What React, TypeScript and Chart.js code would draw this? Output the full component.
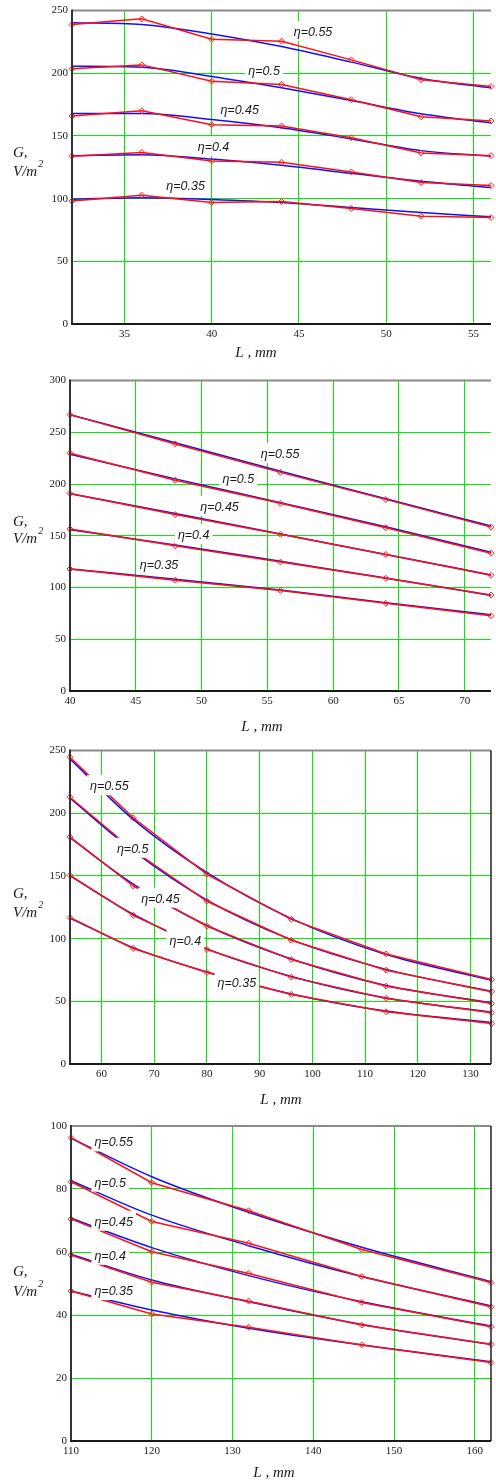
import React, { useEffect, useRef } from 'react';
import { Chart, registerables } from 'chart.js';
Chart.register(...registerables);

const ETA = ['η=0.55', 'η=0.5', 'η=0.45', 'η=0.4', 'η=0.35'];

// ---------- Chart 1 ----------
const c1X = [32, 36, 40, 44, 48, 52, 56];
const c1Red55 = [238.9, 243.4, 227.2, 225.6, 210.7, 194.8, 189.5];
const c1Red50 = [203.6, 206.7, 193.7, 191.1, 178.9, 165.3, 161.9];
const c1Red45 = [165.9, 170.1, 159.0, 157.9, 148.6, 136.4, 134.3];
const c1Red40 = [133.8, 136.9, 130.0, 129.0, 121.3, 112.8, 110.4];
const c1Red35 = [98.2, 102.7, 96.9, 97.7, 92.1, 86.0, 84.9];
const c1Blue55 = [240.4, 239.0, 231.4, 221.3, 208.9, 195.9, 188.4];
const c1Blue50 = [205.7, 204.9, 197.5, 188.4, 178.3, 167.7, 160.3];
const c1Blue45 = [168.0, 168.0, 163.2, 156.6, 147.6, 138.3, 133.8];
const c1Blue40 = [134.3, 135.1, 131.6, 126.6, 120.2, 113.9, 108.8];
const c1Blue35 = [99.5, 100.8, 99.3, 96.9, 92.9, 88.9, 85.5];
const c1XTicks = [35, 40, 45, 50, 55];
const c1YTicks = [0, 50, 100, 150, 200, 250];
const c1LabelX = [44.7, 42.1, 40.5, 39.2, 37.4];
const c1LabelY = [232.7, 202.2, 170.9, 141.2, 110.1];

// ---------- Chart 2 ----------
const c2X = [40, 48, 56, 64, 72];
const c2Red55 = [267.1, 238.8, 211.3, 185.2, 158.4];
const c2Red50 = [229.8, 203.7, 181.4, 157.8, 133.2];
const c2Red45 = [190.9, 170.5, 151.4, 132.0, 111.9];
const c2Red40 = [156.5, 140.3, 124.6, 109.0, 92.8];
const c2Red35 = [117.9, 107.1, 97.2, 84.8, 72.7];
const c2Blue55 = [267.0, 240.0, 212.3, 185.8, 159.4];
const c2Blue50 = [228.9, 205.0, 182.0, 158.7, 134.2];
const c2Blue45 = [190.6, 171.5, 151.7, 132.0, 112.2];
const c2Blue40 = [155.9, 141.2, 125.3, 109.3, 92.4];
const c2Blue35 = [117.9, 108.1, 97.5, 85.4, 73.6];
const c2XTicks = [40, 45, 50, 55, 60, 65, 70];
const c2YTicks = [0, 50, 100, 150, 200, 250, 300];
const c2LabelX = [54.5, 51.6, 49.9, 48.2, 45.3];
const c2LabelY = [228.9, 205.0, 177.9, 150.8, 121.5];

// ---------- Chart 3 ----------
const c3X = [54, 66, 80, 96, 114, 134];
const c3Red55 = [244.7, 196.4, 151.3, 115.4, 87.8, 67.4];
const c3Red50 = [212.8, 170.5, 129.8, 98.7, 74.8, 57.6];
const c3Red45 = [181.0, 142.0, 109.9, 83.3, 62.1, 48.3];
const c3Red40 = [150.5, 118.6, 91.3, 69.3, 52.3, 40.9];
const c3Red35 = [116.8, 92.1, 73.0, 55.5, 41.7, 32.4];
const c3Blue55 = [243.4, 195.1, 152.6, 116.0, 87.3, 66.9];
const c3Blue50 = [212.0, 170.0, 130.8, 99.2, 75.5, 58.0];
const c3Blue45 = [180.5, 143.5, 110.5, 83.8, 62.6, 48.8];
const c3Blue40 = [150.0, 119.5, 91.8, 69.8, 52.6, 41.3];
const c3Blue35 = [116.5, 92.8, 73.4, 55.9, 42.2, 33.2];
const c3XTicks = [60, 70, 80, 90, 100, 110, 120, 130];
const c3YTicks = [0, 50, 100, 150, 200, 250];
const c3LabelX = [57.8, 62.9, 67.5, 72.9, 82.0];
const c3LabelY = [221.6, 171.7, 131.9, 98.2, 65.0];

// ---------- Chart 4 ----------
const c4X = [110, 120, 132, 146, 162];
const c4Red55 = [96.3, 82.0, 73.1, 60.8, 50.3];
const c4Red50 = [82.3, 69.7, 62.8, 52.2, 42.6];
const c4Red45 = [70.5, 60.1, 53.2, 44.0, 36.3];
const c4Red40 = [59.0, 50.4, 44.4, 36.8, 30.7];
const c4Red35 = [47.6, 40.3, 36.1, 30.5, 24.9];
const c4Blue55 = [96.1, 83.9, 72.6, 61.5, 50.6];
const c4Blue50 = [82.6, 71.7, 62.0, 52.2, 42.9];
const c4Blue45 = [70.7, 61.4, 52.5, 44.2, 36.5];
const c4Blue40 = [59.3, 51.1, 44.2, 37.0, 30.7];
const c4Blue35 = [47.6, 41.6, 35.8, 30.5, 25.2];
const c4XTicks = [110, 120, 130, 140, 150, 160];
const c4YTicks = [0, 20, 40, 60, 80, 100];
const c4LabelX = [112.9, 112.9, 112.9, 112.9, 112.9];
const c4LabelY = [94.8, 82.0, 69.6, 58.8, 47.6];

type Spec = {
  top: number; height: number;
  pl: number; pr: number; pt: number; pb: number;
  xMin: number; xMax: number; yMax: number;
  xTicks: number[]; yTicks: number[];
  xs: number[]; red: number[][]; blue: number[][];
  lx: number[]; ly: number[];
  xTitleX: number; xTitleY: number; gY: number; vY: number;
  rightBorder: boolean;
};

const specs: Spec[] = [
  {
    top: 0, height: 370, pl: 72, pr: 496, pt: 10, pb: 324,
    xMin: 32, xMax: 56, yMax: 250, xTicks: c1XTicks, yTicks: c1YTicks,
    xs: c1X, red: [c1Red55, c1Red50, c1Red45, c1Red40, c1Red35],
    blue: [c1Blue55, c1Blue50, c1Blue45, c1Blue40, c1Blue35],
    lx: c1LabelX, ly: c1LabelY, xTitleX: 256, xTitleY: 353, gY: 153, vY: 172, rightBorder: false,
  },
  {
    top: 370, height: 370, pl: 70, pr: 496, pt: 377, pb: 691,
    xMin: 40, xMax: 72, yMax: 300, xTicks: c2XTicks, yTicks: c2YTicks,
    xs: c2X, red: [c2Red55, c2Red50, c2Red45, c2Red40, c2Red35],
    blue: [c2Blue55, c2Blue50, c2Blue45, c2Blue40, c2Blue35],
    lx: c2LabelX, ly: c2LabelY, xTitleX: 262, xTitleY: 727, gY: 522, vY: 539, rightBorder: false,
  },
  {
    top: 740, height: 370, pl: 70, pr: 493, pt: 750, pb: 1064,
    xMin: 54, xMax: 133.9, yMax: 250, xTicks: c3XTicks, yTicks: c3YTicks,
    xs: c3X, red: [c3Red55, c3Red50, c3Red45, c3Red40, c3Red35],
    blue: [c3Blue55, c3Blue50, c3Blue45, c3Blue40, c3Blue35],
    lx: c3LabelX, ly: c3LabelY, xTitleX: 281, xTitleY: 1100, gY: 894, vY: 913, rightBorder: true,
  },
  {
    top: 1110, height: 371, pl: 71, pr: 495, pt: 1126, pb: 1441,
    xMin: 110, xMax: 162, yMax: 100, xTicks: c4XTicks, yTicks: c4YTicks,
    xs: c4X, red: [c4Red55, c4Red50, c4Red45, c4Red40, c4Red35],
    blue: [c4Blue55, c4Blue50, c4Blue45, c4Blue40, c4Blue35],
    lx: c4LabelX, ly: c4LabelY, xTitleX: 274, xTitleY: 1473, gY: 1272, vY: 1292, rightBorder: true,
  },
];

const GREEN = '#00ee00';

function Panel({ s }: { s: Spec }) {
  const ref = useRef<HTMLCanvasElement | null>(null);
  useEffect(() => {
    if (!ref.current) return;
    const datasets: any[] = [];
    s.red.forEach((arr) => {
      datasets.push({
        data: s.xs.map((x, j) => ({ x, y: arr[j] })),
        borderColor: '#ff1010',
        borderWidth: 1.5,
        tension: 0,
        pointStyle: 'rectRot',
        pointRadius: 3,
        pointBorderColor: '#ff2020',
        pointBackgroundColor: 'rgba(255,255,255,0)',
        pointBorderWidth: 1,
        clip: 5,
      });
    });
    s.blue.forEach((arr) => {
      datasets.push({
        data: s.xs.map((x, j) => ({ x, y: arr[j] })),
        borderColor: '#1010ff',
        borderWidth: 1.5,
        cubicInterpolationMode: 'monotone',
        pointRadius: 0,
        clip: 5,
      });
    });

    const relTop = s.top;
    const decor = {
      id: 'decor',
      afterDatasetsDraw(chart: any) {
        const { ctx, scales } = chart;
        ctx.save();
        ctx.font = 'italic 12.5px "Liberation Sans", Arial, sans-serif';
        ctx.textBaseline = 'middle';
        ctx.textAlign = 'left';
        ETA.forEach((t, i) => {
          const px = scales.x.getPixelForValue(s.lx[i]);
          const py = scales.y.getPixelForValue(s.ly[i]);
          const w = ctx.measureText(t).width;
          ctx.fillStyle = '#ffffff';
          ctx.fillRect(px - 3, py - 11, w + 6, 20);
          ctx.fillStyle = '#1a1a1a';
          ctx.fillText(t, px, py + 0.5);
        });
        ctx.restore();
      },
      afterDraw(chart: any) {
        const { ctx, chartArea } = chart;
        const { left, right, top, bottom } = chartArea;
        ctx.save();
        // frame
        ctx.lineWidth = 2;
        ctx.strokeStyle = '#8a8a8a';
        ctx.beginPath();
        ctx.moveTo(left, top);
        ctx.lineTo(right, top);
        ctx.stroke();
        ctx.strokeStyle = '#333333';
        ctx.beginPath();
        ctx.moveTo(left, top - 1);
        ctx.lineTo(left, bottom + 1);
        ctx.stroke();
        ctx.strokeStyle = '#1a1a1a';
        ctx.beginPath();
        ctx.moveTo(left - 1, bottom);
        ctx.lineTo(right, bottom);
        ctx.stroke();
        if (s.rightBorder) {
          ctx.strokeStyle = '#202020';
          ctx.lineWidth = 1.5;
          ctx.beginPath();
          ctx.moveTo(right, top);
          ctx.lineTo(right, bottom);
          ctx.stroke();
        }
        // axis titles
        ctx.fillStyle = '#1a1a1a';
        ctx.textBaseline = 'middle';
        ctx.font = 'italic 15px "Liberation Serif", "Times New Roman", serif';
        ctx.textAlign = 'center';
        ctx.fillText('L , mm', s.xTitleX, s.xTitleY - relTop);
        ctx.textAlign = 'left';
        ctx.fillText('G,', 13, s.gY - relTop);
        ctx.fillText('V/m', 13, s.vY - relTop);
        const w = ctx.measureText('V/m').width;
        ctx.font = 'italic 10px "Liberation Serif", "Times New Roman", serif';
        ctx.fillText('2', 13 + w + 1, s.vY - relTop - 8);
        ctx.restore();
      },
    };

    const tickFont = { family: '"Liberation Serif", "Times New Roman", serif', size: 11 };
    const chart = new Chart(ref.current, {
      type: 'line',
      data: { datasets },
      options: {
        animation: false,
        responsive: false,
        maintainAspectRatio: false,
        events: [],
        layout: { padding: { top: s.pt - s.top, right: 496 - s.pr, left: 0, bottom: 0 } },
        plugins: { legend: { display: false }, tooltip: { enabled: false } },
        scales: {
          x: {
            type: 'linear',
            min: s.xMin,
            max: s.xMax,
            afterBuildTicks: (sc: any) => { sc.ticks = s.xTicks.map((v) => ({ value: v })); },
            afterFit: (sc: any) => { sc.height = s.top + s.height - s.pb; },
            ticks: { font: tickFont, color: '#1a1a1a', padding: 4, maxRotation: 0, autoSkip: false },
            grid: { drawTicks: false, lineWidth: 1, color: GREEN },
            border: { display: false },
          },
          y: {
            type: 'linear',
            min: 0,
            max: s.yMax,
            afterBuildTicks: (sc: any) => { sc.ticks = s.yTicks.map((v) => ({ value: v })); },
            afterFit: (sc: any) => { sc.width = s.pl; },
            ticks: { font: tickFont, color: '#1a1a1a', padding: 4 },
            grid: { drawTicks: false, lineWidth: 1, color: GREEN },
            border: { display: false },
          },
        },
      } as any,
      plugins: [decor],
    });
    return () => chart.destroy();
  }, []);
  return (
    <canvas
      ref={ref}
      width={496}
      height={s.height}
      style={{ position: 'absolute', left: 0, top: s.top, width: 496, height: s.height }}
    />
  );
}

export default function App() {
  return (
    <div style={{ position: 'absolute', left: 0, top: 0, width: 496, height: 1481, background: '#ffffff', overflow: 'hidden' }}>
      {specs.map((s, i) => (
        <Panel key={i} s={s} />
      ))}
    </div>
  );
}
